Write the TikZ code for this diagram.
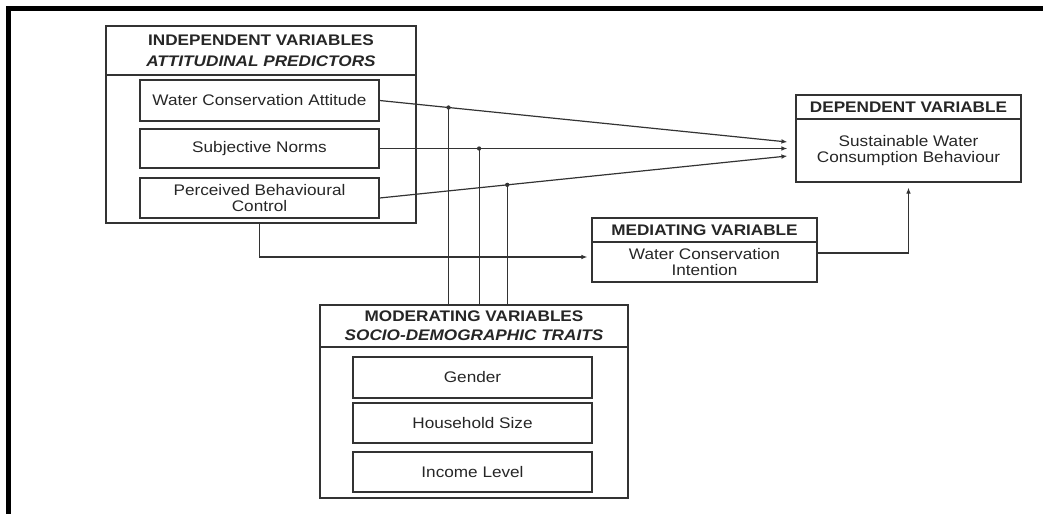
\documentclass[tikz,border=0pt]{standalone}
\usepackage{fontspec}
\setmainfont{Liberation Sans}[FakeStretch=1.12]
\usetikzlibrary{arrows.meta}

\begin{document}
\begin{tikzpicture}[x=0.75pt,y=-0.75pt,
    every node/.style={font=\fontsize{11.5}{11.5}\selectfont, text=black!85, align=center},
    headbox/.style={rectangle, draw=black!80, line width=0.9pt, inner sep=0pt},
    bodybox/.style={rectangle, draw=black!80, line width=0.9pt, inner sep=0pt},
    itembox/.style={rectangle, draw=black!80, line width=0.9pt, inner sep=0pt,
        minimum width=179.25pt},
    flow/.style={draw=black!80, line width=0.9pt, -{Latex[length=4.5pt,width=3.5pt]}},
    modline/.style={draw=black!80, line width=0.9pt}]
\useasboundingbox (0,0) rectangle (1043,514);

% frame
\draw[line width=3.75pt, line join=miter] (1043,8) -- (8,8) -- (8,514);

% independent variables
\node[headbox, minimum width=232.5pt, minimum height=36.75pt] (indhead) at (261,50.5)
    {\textbf{INDEPENDENT VARIABLES}\\[4pt]\textbf{\textit{ATTITUDINAL PREDICTORS}}};
\node[bodybox, minimum width=232.5pt, minimum height=111pt] (indbody) at (261,149) {};
\node[itembox, minimum height=30.75pt] (wca) at (259.5,100.5) {Water Conservation Attitude};
\node[itembox, minimum height=29.25pt] (sn) at (259.5,148.5) {Subjective Norms};
\node[itembox, minimum height=30pt] (pbc) at (259.5,198) {Perceived Behavioural\\Control};

% dependent variable
\node[headbox, minimum width=168.75pt, minimum height=18pt] (dephead) at (908.5,107)
    {\textbf{DEPENDENT VARIABLE}};
\node[bodybox, minimum width=168.75pt, minimum height=47.25pt] (depbody) at (908.5,150.5)
    {Sustainable Water\\Consumption Behaviour};

% mediating variable
\node[headbox, minimum width=168.75pt, minimum height=18pt] (medhead) at (704.5,230)
    {\textbf{MEDIATING VARIABLE}};
\node[bodybox, minimum width=168.75pt, minimum height=30pt] (medbody) at (704.5,262)
    {Water Conservation\\Intention};

% moderating variables
\node[headbox, minimum width=231pt, minimum height=31.5pt] (modhead) at (474,326)
    {\textbf{MODERATING VARIABLES}\\[3pt]\textbf{\textit{SOCIO-DEMOGRAPHIC TRAITS}}};
\node[bodybox, minimum width=231pt, minimum height=113.25pt] (modbody) at (474,422.5) {};
\node[itembox, minimum height=30.75pt] (gender) at (472.5,377.5) {Gender};
\node[itembox, minimum height=30pt] (hhsize) at (472.5,423) {Household Size};
\node[itembox, minimum height=30pt] (income) at (472.5,472) {Income Level};

% direct paths
\draw[flow] (wca.east) -- coordinate[pos=0.169] (j1) ([shift={(-8,-8.5)}]depbody.west);
\draw[flow] (sn.east) -- coordinate[pos=0.244] (j2) ([shift={(-8,-2)}]depbody.west);
\draw[flow] (pbc.east) -- coordinate[pos=0.313] (j3) ([shift={(-8,5.5)}]depbody.west);

% moderation
\draw[modline] (j1 |- modhead.north) -- (j1);
\draw[modline] (j2 |- modhead.north) -- (j2);
\draw[modline] (j3 |- modhead.north) -- (j3);
\fill[black!80] (j1) circle[radius=1.6pt];
\fill[black!80] (j2) circle[radius=1.6pt];
\fill[black!80] (j3) circle[radius=1.6pt];

% mediation
\draw[flow] (wca.south |- indbody.south) |- ([shift={(-4,-5)}]medbody.west);
\draw[flow] ([shift={(0,-9)}]medbody.east) -| ([shift={(0,5)}]depbody.south);
\end{tikzpicture}
\end{document}
